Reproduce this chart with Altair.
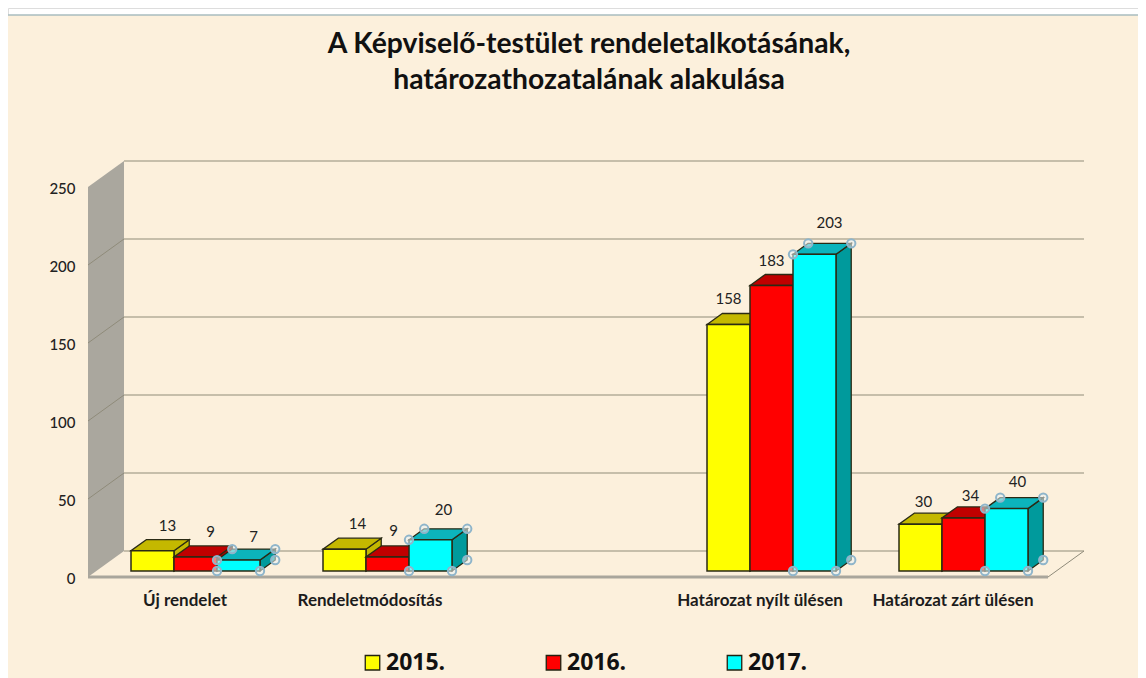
import altair as alt
import pandas as pd

categories = ["Új rendelet", "Rendeletmódosítás", "", "Határozat nyílt ülésen", "Határozat zárt ülésen"]
years = ["2015.", "2016.", "2017."]
values = {
    "2015.": [13, 14, None, 158, 30],
    "2016.": [9, 9, None, 183, 34],
    "2017.": [7, 20, None, 203, 40],
}
ticks = [0, 50, 100, 150, 200, 250]
front_colors = ["#ffff00", "#ff0000", "#00ffff"]
top_colors = ["#c4b800", "#c00000", "#0cb4bc"]
side_colors = ["#c4b800", "#b00000", "#009a9c"]
title_lines = ["A Képviselő-testület rendeletalkotásának,", "határozathozatalának alakulása"]

# label fine tuning (the reference's labels were moved by hand), in pixels
cat_label_nudge = [1, -6, 0, 0, 1]
value_label_nudge_x = {
    "2015.": [0, -2, 0, -15, -12],
    "2016.": [0, -9, 0, -15, -8],
    "2017.": [0, -2, 0, 0, -4],
}
value_label_nudge_y = {
    "2015.": [0, 0, 0, -1, 3],
    "2016.": [0, -1, 0, 0, 3],
    "2017.": [2, -5, 0, -6, -2],
}

W, H = 1130, 670
SLOT = 192.0
PX_PER_UNIT = 1.56
DEPTH_X = 36 / SLOT
DEPTH_Y = 26 / PX_PER_UNIT
BAR = 43 / SLOT
FRONT, BACK = 6 / 26, 17 / 26
X_DOMAIN = [-80 / SLOT, (W - 80) / SLOT]
Y_DOMAIN = [(569 - H) / PX_PER_UNIT, 569 / PX_PER_UNIT]

x_scale = alt.Scale(domain=X_DOMAIN, nice=False, zero=False)
y_scale = alt.Scale(domain=Y_DOMAIN, nice=False, zero=False)
y_axis = alt.Axis(
    values=ticks, domain=False, ticks=False, grid=False, labelPadding=0, offset=-67, zindex=1, title=None,
    labelFont="Lato", labelFontSize=15, labelColor="#222222", labelFontWeight=500, labelOffset=1,
)


def X(field="x"):
    return alt.X(f"{field}:Q", scale=x_scale, axis=None)


def Y(field="y"):
    return alt.Y(f"{field}:Q", scale=y_scale, axis=y_axis)


def ux(i, j, d, right=False):
    return i + BAR + j * BAR + (BAR if right else 0) + (d - FRONT) * DEPTH_X


def vy(v, d):
    return v + d * DEPTH_Y


layers = []

# panel background
layers.append(
    alt.Chart(pd.DataFrame({"a": [0]}))
    .mark_rect(fill="#fcf0dc")
    .encode(x=alt.value(0), x2=alt.value(W), y=alt.value(7), y2=alt.value(H))
)
layers.append(
    alt.Chart(pd.DataFrame({"a": [0]}))
    .mark_rule(color="#a9bcbf", strokeWidth=1.5)
    .encode(x=alt.value(0), x2=alt.value(W), y=alt.value(7))
)

# left wall
wall = pd.DataFrame({"x": [0, DEPTH_X], "y": [vy(250, 0), vy(250, 1)], "y2": [vy(0, 0), vy(0, 1)]})
layers.append(
    alt.Chart(wall)
    .mark_area(orient="vertical", color="#aaa79e")
    .encode(x=X(), y=Y(), y2="y2:Q")
)

# wall slants and back grid
slants = pd.DataFrame(
    [{"t": t, "x": 0, "y": vy(t, 0)} for t in ticks[1:-1]] + [{"t": t, "x": DEPTH_X, "y": vy(t, 1)} for t in ticks[1:-1]]
)
layers.append(alt.Chart(slants).mark_line(color="#8f8b7a", strokeWidth=1).encode(x=X(), y=Y(), detail="t:N"))

grid = pd.DataFrame({"x": [DEPTH_X] * len(ticks), "x2": [5 + DEPTH_X] * len(ticks), "y": [vy(t, 1) for t in ticks]})
layers.append(alt.Chart(grid).mark_rule(color="#8f8b78", strokeWidth=1.1).encode(x=X(), x2="x2:Q", y=Y()))

# floor
floor_edge = pd.DataFrame({"x": [5, 5 + DEPTH_X], "y": [vy(0, 0), vy(0, 1)]})
layers.append(alt.Chart(floor_edge).mark_line(color="#8f8b7a", strokeWidth=1).encode(x=X(), y=Y()))
floor_front = pd.DataFrame({"x": [0], "x2": [5], "y": [0]})
layers.append(alt.Chart(floor_front).mark_rule(color="#a9a69c", strokeWidth=3).encode(x=X(), x2="x2:Q", y=Y()))

stroke = "#2a2a14"
for j, year in enumerate(years):
    rows = [(i, v) for i, v in enumerate(values[year]) if v is not None]
    side = pd.DataFrame(
        [{"c": i, "x": ux(i, j, d, True), "y": vy(v, d), "y2": vy(0, d)} for i, v in rows for d in (FRONT, BACK)]
    )
    layers.append(
        alt.Chart(side)
        .mark_area(orient="vertical", color=side_colors[j], stroke=stroke, strokeWidth=1.3)
        .encode(x=X(), y=Y(), y2="y2:Q", detail="c:N")
    )
    top = pd.DataFrame(
        [{"c": i, "x": ux(i, j, d), "x2": ux(i, j, d, True), "y": vy(v, d)} for i, v in rows for d in (FRONT, BACK)]
    )
    layers.append(
        alt.Chart(top)
        .mark_area(orient="horizontal", color=top_colors[j], stroke=stroke, strokeWidth=1.3)
        .encode(x=X(), x2="x2:Q", y=Y(), detail="c:N")
    )
    front = pd.DataFrame(
        [
            {
                "year": year,
                "x": ux(i, j, FRONT),
                "x2": ux(i, j, FRONT, True),
                "y": vy(v, FRONT),
                "y2": vy(0, FRONT),
            }
            for i, v in rows
        ]
    )
    layers.append(
        alt.Chart(front)
        .mark_rect(stroke=stroke, strokeWidth=1.5)
        .encode(
            x=X(),
            x2="x2:Q",
            y=Y(),
            y2="y2:Q",
            fill=alt.Fill(
                "year:N",
                scale=alt.Scale(domain=years, range=front_colors),
                legend=alt.Legend(
                    title=None, orient="none", legendX=353, legendY=643, direction="horizontal", columns=3,
                    symbolType="square", symbolSize=210, symbolStrokeColor="#222211", symbolStrokeWidth=1.3,
                    symbolOpacity=1, labelFont="Open Sans", labelFontWeight="bold", labelFontSize=23,
                    labelColor="#111111", columnPadding=96, labelOffset=2, padding=0, gridAlign="all",
                ),
            ),
        )
    )

# selection handles on the 2017 bars
handles = []
for i, v in enumerate(values["2017."]):
    if v is None:
        continue
    handles += [
        {"x": ux(i, 2, FRONT), "y": vy(v, FRONT)},
        {"x": ux(i, 2, BACK), "y": vy(v, BACK)},
        {"x": ux(i, 2, BACK, True), "y": vy(v, BACK)},
        {"x": ux(i, 2, BACK, True), "y": vy(0, BACK)},
        {"x": ux(i, 2, FRONT), "y": vy(0, FRONT)},
        {"x": ux(i, 2, FRONT, True), "y": vy(0, FRONT)},
    ]
layers.append(
    alt.Chart(pd.DataFrame(handles))
    .mark_point(filled=True, shape="circle", size=70, fill="#e8f2f6", stroke="#8fb5ca", strokeWidth=2, opacity=1, fillOpacity=0.55)
    .encode(x=X(), y=Y())
)

# value labels
labels = []
for j, year in enumerate(years):
    for i, v in enumerate(values[year]):
        if v is None:
            continue
        labels.append(
            {
                "t": str(v),
                "x": (ux(i, j, FRONT) + ux(i, j, FRONT, True)) / 2 + (15 + value_label_nudge_x[year][i]) / SLOT,
                "y": vy(v, BACK) + (14 - value_label_nudge_y[year][i]) / PX_PER_UNIT,
            }
        )
layers.append(
    alt.Chart(pd.DataFrame(labels))
    .mark_text(font="Lato", fontSize=15, color="#222222", align="center", baseline="middle")
    .encode(x=X(), y=Y(), text="t:N")
)

# category labels
cats = pd.DataFrame(
    [
        {"t": c, "x": i + 0.5 + cat_label_nudge[i] / SLOT, "y": -24 / PX_PER_UNIT}
        for i, c in enumerate(categories)
        if c
    ]
)
layers.append(
    alt.Chart(cats)
    .mark_text(font="Lato", fontWeight="bold", fontSize=17, color="#1c1c1c", align="center", baseline="middle")
    .encode(x=X(), y=Y(), text="t:N")
)

chart = (
    alt.layer(*layers)
    .resolve_scale(fill="shared")
    .properties(
        width=W,
        height=H,
        padding=0,
        autosize=alt.AutoSizeParams(type="none"),
        title=alt.TitleParams(
            text=title_lines, font="Lato", fontSize=28.3, fontWeight="bold", color="#111111",
            anchor="middle", offset=-87, dx=16, lineHeight=36,
        ),
    )
    .configure_view(stroke=None)
    .configure(background="white")
)

chart.save("out.html", embed_options={"renderer": "svg", "actions": False})
